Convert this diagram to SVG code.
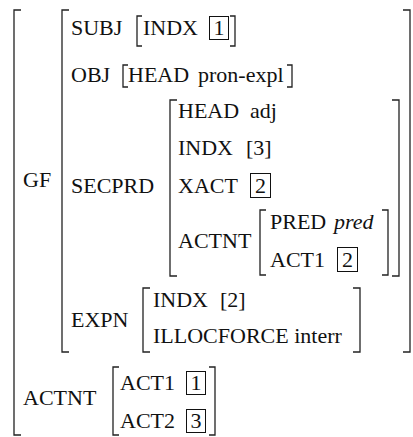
<svg xmlns="http://www.w3.org/2000/svg" width="413" height="437" viewBox="0 0 413 437">
<style>
text{font-family:'Liberation Serif','Tinos','Times New Roman','Times','Nimbus Roman','Nimbus Roman No9 L','FreeSerif','Noto Serif','DejaVu Serif',serif;font-size:22px;fill:#111}
.it{font-style:italic}
.mid{text-anchor:middle}
.br{fill:none;stroke:#222;stroke-width:1.3}
.box{fill:none;stroke:#111;stroke-width:1}
</style>
<rect width="413" height="437" fill="#fff"/>
<g id="outer">
<path class="br" d="M21,10H14V435H21"/>
<text x="23" y="187">GF</text>
<text x="23" y="405">ACTNT</text>
</g>
<g id="gf">
<path class="br" d="M69,10H62V352H69"/>
<path class="br" d="M403,10H410V352H403"/>
<text x="71" y="35">SUBJ</text>
<text x="71" y="82">OBJ</text>
<text x="71" y="193">SECPRD</text>
<text x="71" y="327">EXPN</text>
</g>
<g id="subj">
<path class="br" d="M142,16H137V46H142"/>
<path class="br" d="M230,16H235V46H230"/>
<text x="143" y="35">INDX</text>
<rect class="box" x="209.5" y="16.5" width="19" height="23"/>
<text class="mid" x="219" y="35">1</text>
</g>
<g id="obj">
<path class="br" d="M128,65H123V87H128"/>
<path class="br" d="M287,65H292V87H287"/>
<text x="128" y="82">HEAD</text>
<text x="198" y="82">pron-expl</text>
</g>
<g id="secprd">
<path class="br" d="M177,100H170V276H177"/>
<path class="br" d="M392,100H399V276H392"/>
<text x="178" y="118">HEAD</text>
<text x="250" y="118">adj</text>
<text x="178" y="155">INDX</text>
<text x="246" y="155">[3]</text>
<text x="178" y="193">XACT</text>
<rect class="box" x="250.5" y="173.5" width="20" height="24"/>
<text class="mid" x="260.5" y="193">2</text>
<text x="178" y="248">ACTNT</text>
</g>
<g id="actnt-inner">
<path class="br" d="M266,210H260V275H266"/>
<path class="br" d="M382,210H388V275H382"/>
<text x="270" y="229">PRED</text>
<text class="it" x="334" y="229">pred</text>
<text x="270" y="267">ACT1</text>
<rect class="box" x="337.5" y="247.5" width="20" height="24"/>
<text class="mid" x="347.5" y="267">2</text>
</g>
<g id="expn">
<path class="br" d="M150,288H143V352H150"/>
<path class="br" d="M353,288H360V352H353"/>
<text x="153" y="307">INDX</text>
<text x="220" y="307">[2]</text>
<text x="153" y="343">ILLOCFORCE interr</text>
</g>
<g id="actnt">
<path class="br" d="M119,367H113V435H119"/>
<path class="br" d="M209,367H215V435H209"/>
<text x="120" y="390">ACT1</text>
<rect class="box" x="186.5" y="371.5" width="19" height="23"/>
<text class="mid" x="196" y="390">1</text>
<text x="120" y="428">ACT2</text>
<rect class="box" x="186.5" y="409.5" width="19" height="23"/>
<text class="mid" x="196" y="428">3</text>
</g>
<g id="connectors"></g>
</svg>
